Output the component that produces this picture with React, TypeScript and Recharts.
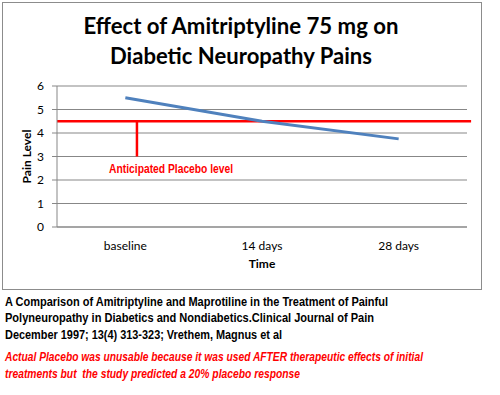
import React from "react";
import {
  LineChart,
  Line,
  XAxis,
  YAxis,
  CartesianGrid,
  ReferenceLine,
  ReferenceDot,
} from "recharts";

const categories = ["baseline", "14 days", "28 days"];
const painValues = [5.5, 4.5, 3.75];
const yTicks = [0, 1, 2, 3, 4, 5, 6];
const placeboLevel = 4.5;
const titleLines = ["Effect of Amitriptyline 75 mg on", "Diabetic Neuropathy Pains"];
const citationLines = [
  "A Comparison of Amitriptyline and Maprotiline in the Treatment of Painful",
  "Polyneuropathy in Diabetics and Nondiabetics.Clinical Journal of Pain",
  "December 1997; 13(4) 313-323; Vrethem, Magnus et al",
];
const noteLines = [
  "Actual Placebo was unusable because it was used AFTER therapeutic effects of initial",
  "treatments but  the study predicted a 20% placebo response",
];

// layout (not data): baselines and rendered widths of text lines
const titleLayout = [
  { y: 33.5, w: 315 },
  { y: 63.5, w: 262 },
];
const citationLayout = [
  { y: 305.5, w: 383 },
  { y: 322, w: 369 },
  { y: 338.5, w: 277 },
];
const noteLayout = [
  { y: 361, w: 418 },
  { y: 378, w: 295 },
];
const squeeze = 0.75;

const data = categories.map((c, i) => ({ idx: i, name: c, pain: painValues[i] }));

const narrow = "'Liberation Sans', Arial, sans-serif";
const titleFont = "Lato, 'Open Sans', sans-serif";

const LabelText = (props: any) => {
  const { viewBox } = props;
  const cx = viewBox.x + (viewBox.width || 0) / 2;
  const cy = viewBox.y + (viewBox.height || 0) / 2;
  return (
    <text
      x={cx - 62}
      y={cy + 4.5}
      fill="#ff0000"
      fontFamily={narrow}
      fontWeight="bold"
      fontSize={13}
      textLength={124}
      lengthAdjust="spacingAndGlyphs"
    >
      Anticipated Placebo level
    </text>
  );
};

const Condensed = ({ x, y, w, children, ...rest }: any) => (
  <g transform={`translate(${x},${y}) scale(${squeeze},1)`}>
    <text
      x={0}
      y={0}
      fontFamily={narrow}
      fontWeight="bold"
      fontSize={13}
      textLength={w / squeeze}
      lengthAdjust="spacingAndGlyphs"
      style={{ whiteSpace: "pre" }}
      {...rest}
    >
      {children}
    </text>
  </g>
);

export default function App() {
  return (
    <div
      style={{
        position: "absolute",
        left: 0,
        top: 0,
        width: 500,
        height: 395,
        background: "#fff",
        overflow: "hidden",
      }}
    >
      <div
        style={{
          position: "absolute",
          left: 2,
          top: 2,
          width: 478,
          height: 286,
          border: "1px solid #8c8c8c",
        }}
      />
      <div style={{ position: "absolute", left: 0, top: 0 }}>
        <LineChart
          width={500}
          height={290}
          data={data}
          margin={{ top: 86, right: 33, bottom: 33, left: 27 }}
        >
          <CartesianGrid horizontal vertical={false} stroke="#878787" strokeWidth={1} />
          <XAxis
            dataKey="idx"
            type="number"
            domain={[-0.5, 2.5]}
            ticks={[0, 1, 2]}
            tickFormatter={(v: number) => categories[v]}
            height={30}
            tickLine={false}
            tickSize={5}
            tickMargin={9}
            axisLine={{ stroke: "#878787" }}
            tick={{ fill: "#000", fontSize: 12, fontFamily: titleFont }}
            label={{
              value: "Time",
              position: "insideBottom",
              offset: -11,
              fill: "#000",
              fontSize: 12,
              fontWeight: "bold",
              fontFamily: titleFont,
            }}
          />
          <YAxis
            domain={[0, 6]}
            ticks={yTicks}
            width={30}
            tickSize={5}
            tickMargin={8}
            axisLine={{ stroke: "#878787" }}
            tickLine={{ stroke: "#878787" }}
            tick={{ fill: "#000", fontSize: 12, fontFamily: titleFont }}
            label={{
              value: "Pain Level",
              angle: -90,
              position: "insideLeft",
              offset: 0,
              fill: "#000",
              fontSize: 12,
              fontWeight: "bold",
              fontFamily: titleFont,
              style: { textAnchor: "middle" },
            }}
          />
          <ReferenceLine
            segment={[
              { x: -0.5, y: placeboLevel },
              { x: 2.53, y: placeboLevel },
            ]}
            stroke="#ff0000"
            strokeWidth={2.5}
            ifOverflow="visible"
          />
          <ReferenceLine
            segment={[
              { x: 0.085, y: placeboLevel },
              { x: 0.085, y: 3 },
            ]}
            stroke="#ff0000"
            strokeWidth={2.5}
            ifOverflow="visible"
          />
          <Line
            dataKey="pain"
            stroke="#4f81bd"
            strokeWidth={3}
            dot={false}
            isAnimationActive={false}
          />
          <ReferenceDot
            x={0.335}
            y={2.5}
            r={0}
            fill="none"
            stroke="none"
            ifOverflow="visible"
            label={<LabelText />}
          />
        </LineChart>
      </div>
      <svg
        width={500}
        height={395}
        style={{ position: "absolute", left: 0, top: 0, pointerEvents: "none" }}
      >
        {titleLines.map((t, i) => (
          <text
            key={"t" + i}
            x={241}
            y={titleLayout[i].y}
            textAnchor="middle"
            fontFamily={titleFont}
            fontWeight={700}
            fontSize={22}
            fill="#000"
            textLength={titleLayout[i].w}
            lengthAdjust="spacingAndGlyphs"
          >
            {t}
          </text>
        ))}
        {citationLines.map((t, i) => (
          <Condensed
            key={"c" + i}
            x={5}
            y={citationLayout[i].y}
            w={citationLayout[i].w}
            fill="#000"
          >
            {t}
          </Condensed>
        ))}
        {noteLines.map((t, i) => (
          <Condensed
            key={"n" + i}
            x={5}
            y={noteLayout[i].y}
            w={noteLayout[i].w}
            fill="#ff0000"
            fontStyle="italic"
          >
            {t}
          </Condensed>
        ))}
      </svg>
    </div>
  );
}
